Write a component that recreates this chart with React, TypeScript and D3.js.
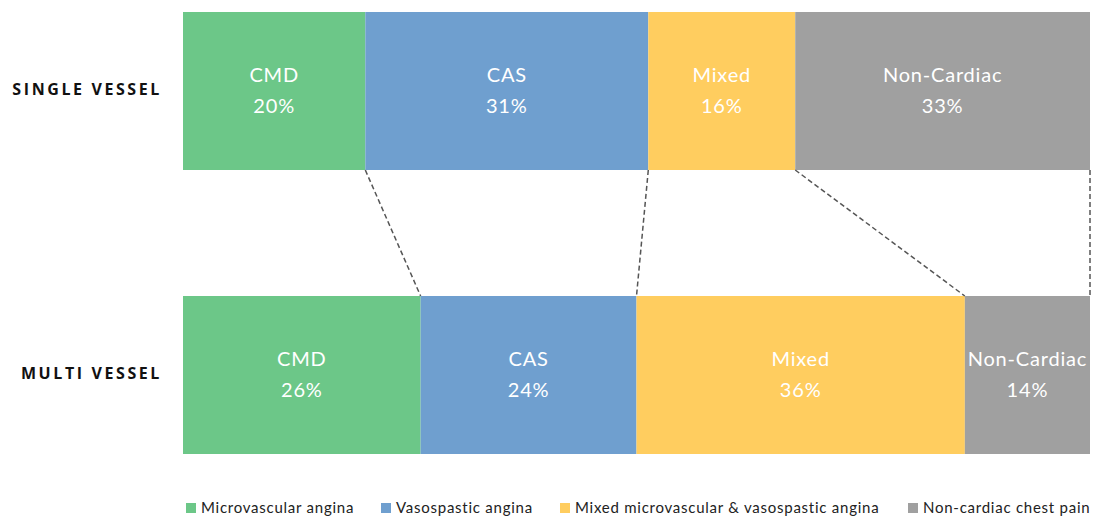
import React from "react";
import * as d3 from "d3";

const rows = ["SINGLE VESSEL", "MULTI VESSEL"];
const categories = ["CMD", "CAS", "Mixed", "Non-Cardiac"];
const legendLabels = [
  "Microvascular angina",
  "Vasospastic angina",
  "Mixed microvascular & vasospastic angina",
  "Non-cardiac chest pain",
];
const singleVessel = [20.1, 31.2, 16.2, 32.5];
const multiVessel = [26.2, 23.8, 36.2, 13.8];
const colors = ["#6CC788", "#6F9FCF", "#FFCD5F", "#A0A0A0"];

const W = 1094;
const H = 518;

export default function App() {
  const x = d3.scaleLinear().domain([0, 100]).range([183, 1090]);
  const y = d3
    .scaleBand<string>()
    .domain(rows)
    .range([12, 454])
    .paddingInner(126 / 284)
    .paddingOuter(0);
  const data = [singleVessel, multiVessel];
  const stacked = data.map((vals) => {
    let acc = 0;
    return vals.map((v) => {
      const s = acc;
      acc += v;
      return [s, acc];
    });
  });
  const bw = y.bandwidth();
  const topBottom = (y(rows[0]) as number) + bw;
  const botTop = y(rows[1]) as number;

  const legendX = [186, 381, 560, 908];
  const font = "Lato, 'Open Sans', sans-serif";

  return (
    <svg width={W} height={H} style={{ position: "absolute", left: 0, top: 0, background: "#fff" }}>
      {rows.map((r, ri) => (
        <g key={r}>
          <text
            x={162}
            y={(y(r) as number) + bw / 2}
            textAnchor="end"
            dominantBaseline="middle"
            fontFamily="'Open Sans', sans-serif"
            fontWeight="bold"
            fontSize={16}
            letterSpacing={2.6}
            fill="#111"
          >
            {r}
          </text>
          {stacked[ri].map(([s, e], ci) => (
            <g key={ci}>
              <rect
                x={x(s)}
                y={y(r)}
                width={x(e) - x(s)}
                height={bw}
                fill={colors[ci]}
              />
              <text
                x={(x(s) + x(e)) / 2}
                y={(y(r) as number) + bw / 2 - 14}
                textAnchor="middle"
                dominantBaseline="middle"
                fontFamily={font}
                fontSize={20}
                letterSpacing={0.8}
                fill="#fff"
              >
                {categories[ci]}
              </text>
              <text
                x={(x(s) + x(e)) / 2}
                y={(y(r) as number) + bw / 2 + 17}
                textAnchor="middle"
                dominantBaseline="middle"
                fontFamily={font}
                fontSize={20}
                letterSpacing={0.8}
                fill="#fff"
              >
                {Math.round(data[ri][ci])}%
              </text>
            </g>
          ))}
        </g>
      ))}
      {stacked[0].map(([, e], ci) => (
        <line
          key={ci}
          x1={x(e)}
          y1={topBottom}
          x2={x(stacked[1][ci][1])}
          y2={botTop}
          stroke="#555"
          strokeWidth={1.5}
          strokeDasharray="5,3"
        />
      ))}
      {legendLabels.map((l, i) => (
        <g key={l}>
          <rect x={legendX[i]} y={503} width={10} height={10} fill={colors[i]} />
          <text
            x={legendX[i] + 15}
            y={509}
            dominantBaseline="middle"
            fontFamily={font}
            fontSize={15}
            letterSpacing={0.75}
            fill="#222"
          >
            {l}
          </text>
        </g>
      ))}
    </svg>
  );
}
